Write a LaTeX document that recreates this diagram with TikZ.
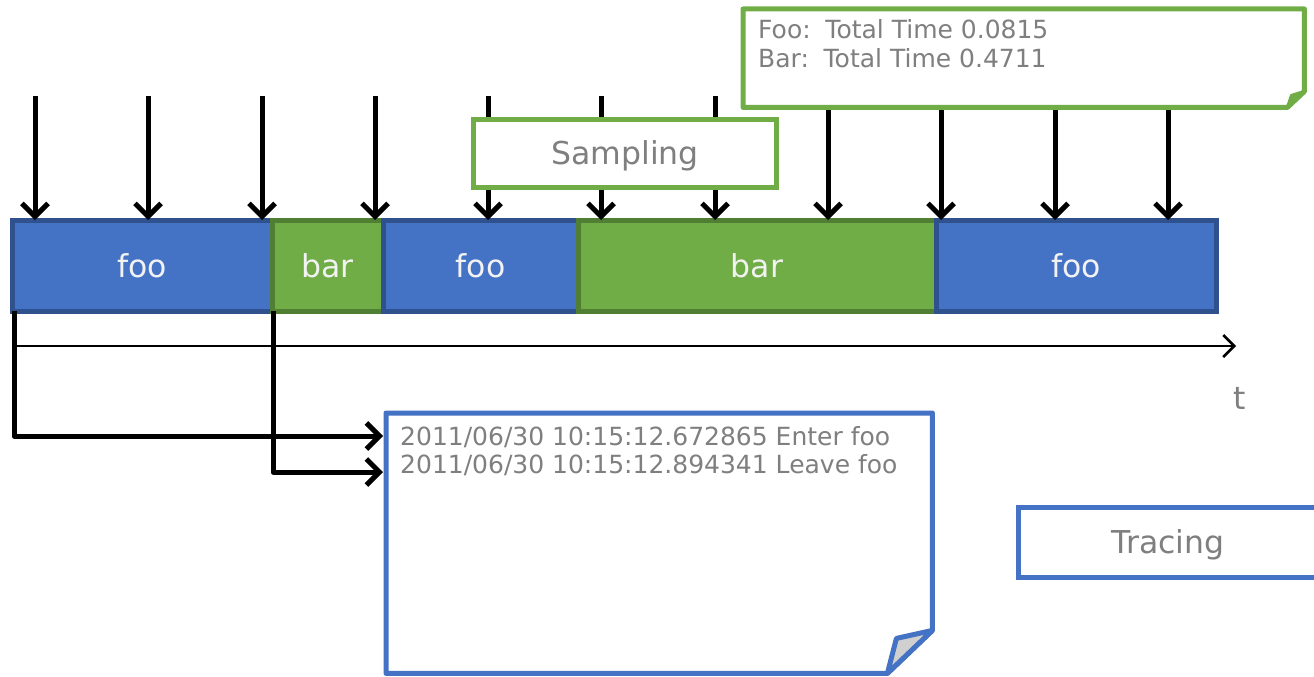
\documentclass[tikz,border=0pt]{standalone}
\usepackage{fontspec}
\setmainfont{DejaVu Sans}
\usetikzlibrary{arrows.meta,calc}

\definecolor{fooblue}{HTML}{4472C4}
\definecolor{fooedge}{HTML}{2F528F}
\definecolor{bargreen}{HTML}{70AD47}
\definecolor{baredge}{HTML}{507E32}
\definecolor{labelgray}{HTML}{7F7F7F}
\definecolor{seglabel}{HTML}{F2F2F2}
\definecolor{foldgray}{HTML}{D0D0D0}

\newcommand{\bigfont}{\fontsize{31.5}{37}\selectfont}
\newcommand{\smallfont}{\fontsize{25}{28}\selectfont}

\begin{document}
\begin{tikzpicture}[x=1pt,y=-1pt,
  seg/.style={draw, line width=5pt, minimum height=91pt, inner sep=0pt, outer sep=0pt,
              anchor=north west, text=seglabel, font=\bigfont},
  fooseg/.style={seg, fill=fooblue, draw=fooedge},
  barseg/.style={seg, fill=bargreen, draw=baredge},
  probe/.style={line width=5pt, -{Straight Barb[length=13pt,width=26pt]}},
  tracearrow/.style={line width=5pt, line join=round,
                     -{Straight Barb[length=13pt,width=26pt]}},
  labelbox/.style={draw, line width=5pt, fill=white, inner sep=0pt, outer sep=0pt,
                   text height=23pt, text depth=0pt,
                   text=labelgray, font=\bigfont},
  notetext/.style={anchor=base west, inner sep=0pt, text=labelgray, font=\smallfont},
  notebody/.style={line width=5pt, line join=round, fill=white},
]
\useasboundingbox (0,0) rectangle (1314,677);

% execution timeline segments
\node[fooseg, minimum width=260pt] (fooA) at (12,220)  {foo};
\node[barseg, minimum width=111pt] (barA) at (272,220) {bar};
\node[fooseg, minimum width=195pt] (fooB) at (383,220) {foo};
\node[barseg, minimum width=358pt] (barB) at (578,220) {bar};
\node[fooseg, minimum width=280pt] (fooC) at (936,220) {foo};

% periodic sampling probes
\foreach \i/\x in {1/35,2/148,3/262,4/375,5/488,6/601,7/715,8/828,9/941,10/1055,11/1168}{
  \coordinate (s\i) at (\x,96);
  \draw[probe] (s\i) -- (s\i |- fooA.north);
}

% time axis
\coordinate (t0) at (14,346);
\coordinate (t1) at (1236,346);
\draw[line width=2.5pt, -{Straight Barb[length=11pt,width=22pt]}] (t0) -- (t1);
\node[text=labelgray, font=\bigfont, inner sep=0pt] (tlabel) at (1240,398) {t};

% sampling label
\node[labelbox, draw=bargreen, minimum width=303pt, minimum height=68pt] (sampling)
  at (625,153) {Sampling};

% sampling summary note with folded corner
\node[minimum width=561pt, minimum height=98pt, inner sep=0pt, anchor=north west]
  (summary) at (743,9) {};
\draw[notebody, draw=bargreen]
  (summary.north west) -- (summary.north east)
  -- ($(summary.south east)+(0,-16)$) -- ($(summary.south east)+(-17,0)$)
  -- (summary.south west) -- cycle;
\draw[line width=3pt, line join=round, draw=bargreen, fill=bargreen]
  ($(summary.south east)+(0,-16)$) -- ($(summary.south east)+(-13,-12)$)
  -- ($(summary.south east)+(-17,0)$) -- cycle;
\node[notetext] (sumA) at (758,39) {Foo:\, Total Time 0.0815};
\node[notetext] (sumB) at (758,67) {Bar:\, Total Time 0.4711};

% trace log note with folded corner
\node[minimum width=546pt, minimum height=260pt, inner sep=0pt, anchor=north west]
  (log) at (386,413) {};
\draw[notebody, draw=fooblue]
  (log.north west) -- (log.north east)
  -- ($(log.south east)+(0,-43)$) -- ($(log.south east)+(-45,0)$)
  -- (log.south west) -- cycle;
\draw[line width=5pt, line join=round, draw=fooblue, fill=foldgray]
  ($(log.south east)+(0,-43)$) -- ($(log.south east)+(-36,-35)$)
  -- ($(log.south east)+(-45,0)$) -- cycle;
\node[notetext] (logA) at (400,445) {2011/06/30 10:15:12.672865 Enter foo};
\node[notetext] (logB) at (400,473) {2011/06/30 10:15:12.894341 Leave foo};

% enter / leave events recorded in the log
\draw[tracearrow] ([xshift=2pt]fooA.south west) |- ([xshift=-3pt,yshift=-23pt]log.north west);
\draw[tracearrow] ([xshift=1pt]fooA.south east) |- ([xshift=-3pt,yshift=-59pt]log.north west);

% tracing label
\node[labelbox, draw=fooblue, minimum width=300pt, minimum height=70pt, anchor=north west]
  (tracing) at (1018,507) {Tracing};
\end{tikzpicture}
\end{document}
